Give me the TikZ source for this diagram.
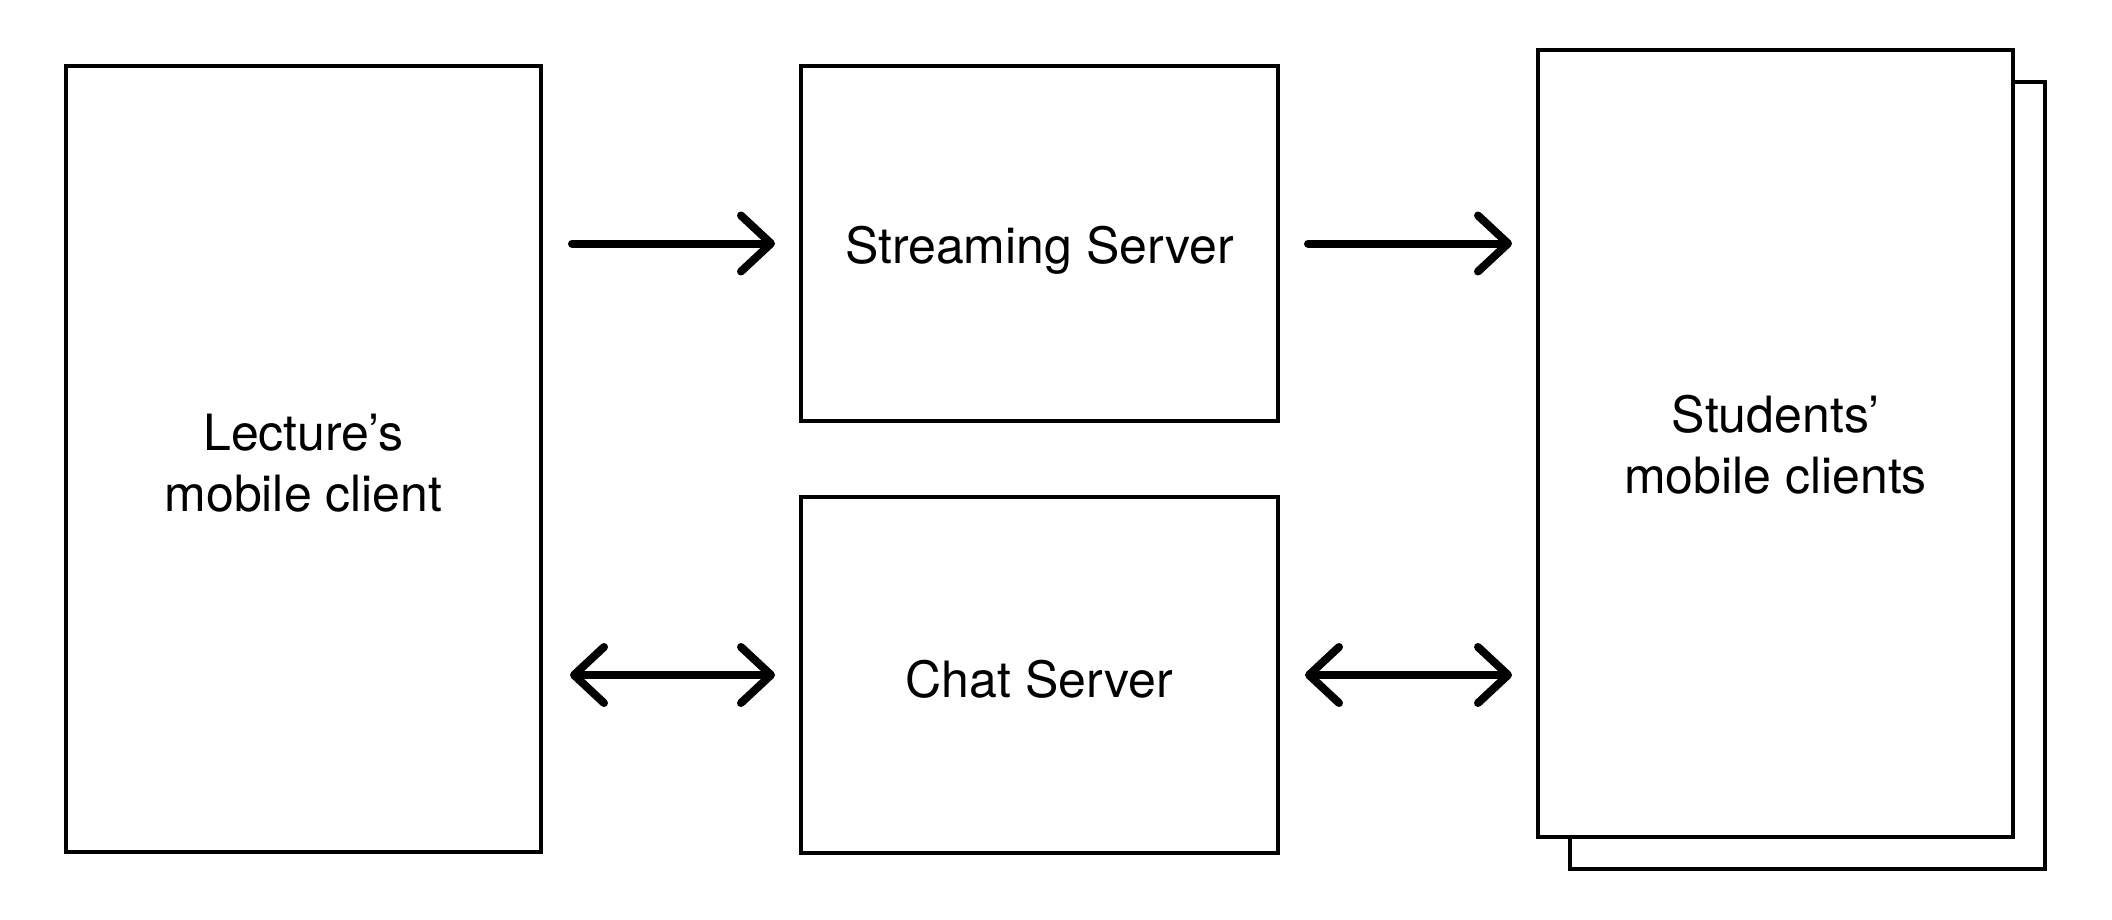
\documentclass[tikz,border=0pt]{standalone}
\usepackage{fontspec}
\setmainfont{TeX Gyre Heros}
\usetikzlibrary{arrows.meta,calc}
\begin{document}
\begin{tikzpicture}[x=1pt,y=-1pt,
  box/.style={draw=black,line width=4pt,fill=white,rectangle,inner sep=0pt,outer sep=0pt},
  txt/.style={align=center,inner sep=0pt,font=\fontsize{50}{61}\selectfont},
  conn/.style={line width=8pt,line cap=round,line join=round},
  tip/.style={-{Straight Barb[length=30pt,width=56pt,round]}},
  dtip/.style={{Straight Barb[length=30pt,width=56pt,round]}-{Straight Barb[length=30pt,width=56pt,round]}}
]
\useasboundingbox (0,0) rectangle (2112,920);
\node[box,minimum width=475pt,minimum height=786pt] (lec) at (303.5,459) {};
\node[box,minimum width=477pt,minimum height=355pt] (stream) at (1039.5,243.5) {};
\node[box,minimum width=477pt,minimum height=356pt] (chat) at (1039.5,675) {};
\node[box,minimum width=475pt,minimum height=787pt] (studback) at (1807.5,475.5) {};
\node[box,minimum width=475pt,minimum height=787pt] (stud) at (1775.5,443.5) {};
\node[txt] (lectxt) at ($(lec.center)+(0,4)$) {Lecture’s\\mobile client};
\node[txt] (streamtxt) at ($(stream.center)+(0,7)$) {Streaming Server};
\node[txt] (chattxt) at ($(chat.center)+(0,4)$) {Chat Server};
\node[txt] (studtxt) at ($(stud.center)+(0,1)$) {Students’\\mobile clients};
\draw[conn,tip] ($(lec.east|-stream.center)+(31,0)$) -- ($(stream.west)+(-26,0)$);
\draw[conn,dtip] ($(lec.east|-chat.center)+(29,0)$) -- ($(chat.west)+(-26,0)$);
\draw[conn,tip] ($(stream.east)+(30,0)$) -- ($(stud.west|-stream.center)+(-26,0)$);
\draw[conn,dtip] ($(chat.east)+(27,0)$) -- ($(stud.west|-chat.center)+(-26,0)$);
\end{tikzpicture}
\end{document}
